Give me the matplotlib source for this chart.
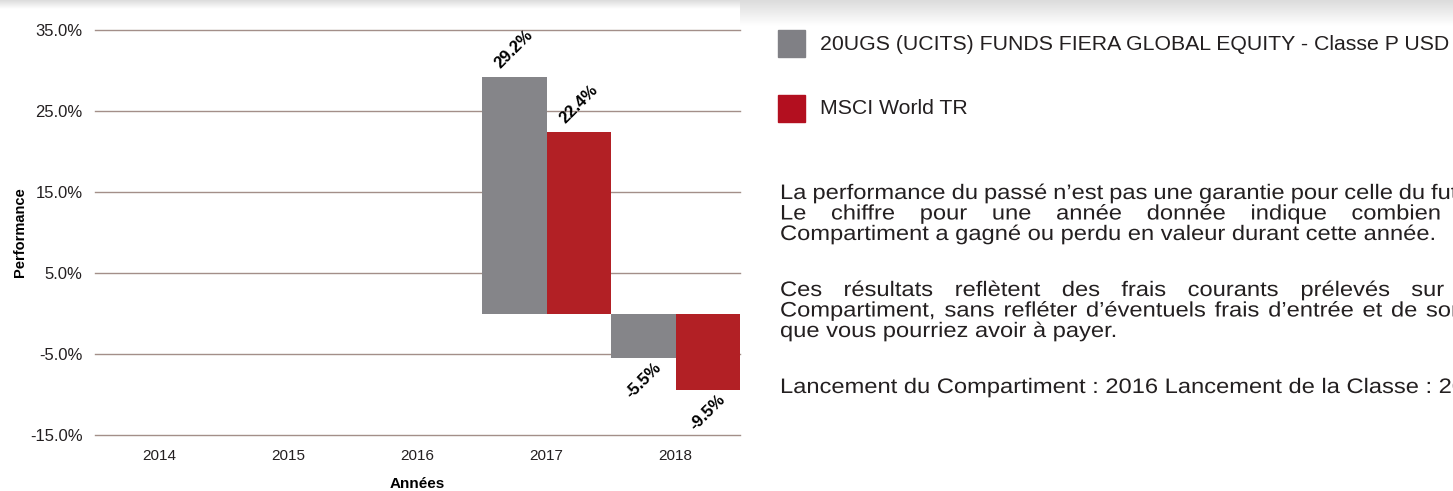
import matplotlib
matplotlib.use('Agg')
import matplotlib.pyplot as plt
import numpy as np
from matplotlib.patches import Rectangle
from matplotlib.patheffects import AbstractPathEffect
from matplotlib.transforms import Affine2D

plt.rcParams['font.family'] = ['Liberation Sans', 'DejaVu Sans']

# data
years = ['2014', '2015', '2016', '2017', '2018']
fund = [np.nan, np.nan, np.nan, 29.2, -5.5]
bench = [np.nan, np.nan, np.nan, 22.4, -9.5]
yticks = [-15, -5, 5, 15, 25, 35]

fund_name = '20UGS (UCITS) FUNDS FIERA GLOBAL EQUITY - Classe P USD'
bench_name = 'MSCI World TR'

paragraphs = [
    ['La performance du passé n’est pas une garantie pour celle du futur.',
     'Le chiffre pour une année donnée indique combien le',
     'Compartiment a gagné ou perdu en valeur durant cette année.'],
    ['Ces résultats reflètent des frais courants prélevés sur le',
     'Compartiment, sans refléter d’éventuels frais d’entrée et de sortie',
     'que vous pourriez avoir à payer.'],
    ['Lancement du Compartiment : 2016 Lancement de la Classe : 2016'],
]

grey = '#858589'
red = '#b22025'
grid_col = '#a38f89'
txt_col = '#231f20'

W, H = 1453, 491
fig = plt.figure(figsize=(W / 100, H / 100), dpi=100)


def fx(px):
    return px / W


def fy(py):
    return 1 - py / H


class HStretch(AbstractPathEffect):
    # widen glyphs horizontally around x0 (display pixels)
    def __init__(self, sx, x0):
        super().__init__()
        self.sx = sx
        self.x0 = x0

    def draw_path(self, renderer, gc, tpath, affine, rgbFace=None):
        st = Affine2D().translate(-self.x0, 0).scale(self.sx, 1).translate(self.x0, 0)
        renderer.draw_path(gc, tpath, affine + st, rgbFace)


# background: grey shading along the top
bg = fig.add_axes([0, 0, 1, 1], zorder=-5)
bg.set_xlim(0, W)
bg.set_ylim(H, 0)
bg.axis('off')
grad = np.linspace(0.86, 1.0, 50).reshape(-1, 1)
bg.imshow(np.repeat(grad, 2, axis=1), cmap='gray', vmin=0, vmax=1,
          extent=(0, W, 9, 0), aspect='auto')
bg.imshow(np.repeat(grad, 2, axis=1), cmap='gray', vmin=0, vmax=1,
          extent=(740, W, 26, 0), aspect='auto')

# chart
ax = fig.add_axes([fx(95), fy(435), fx(740) - fx(95), fy(30) - fy(435)])
x = np.arange(len(years))
ax.bar(x - 0.25, fund, width=0.5, color=grey, zorder=3)
ax.bar(x + 0.25, bench, width=0.5, color=red, zorder=3)

for xs, vals in [(x - 0.25, fund), (x + 0.25, bench)]:
    for xi, v in zip(xs, vals):
        if np.isnan(v):
            continue
        off = 20 if v > 0 else -16
        ax.annotate('{:.1f}%'.format(v), (xi, v), xytext=(0, off),
                    textcoords='offset points', ha='center', va='center',
                    rotation=45, fontsize=12, fontweight='bold', color='black')

ax.set_xlim(-0.5, len(years) - 0.5)
ax.set_ylim(-15, 35)
ax.set_xticks(x)
ax.set_xticklabels(years)
ax.set_yticks(yticks)
ax.set_yticklabels(['{:.1f}%'.format(t) for t in yticks])
ax.tick_params(length=0, colors=txt_col)
ax.tick_params(axis='y', pad=9, labelsize=12)
ax.tick_params(axis='x', pad=10, labelsize=11)
ax.yaxis.grid(True, color=grid_col, lw=1)
for gl in ax.yaxis.get_gridlines():
    gl.set_clip_on(False)
ax.set_axisbelow(True)
for s in ax.spines.values():
    s.set_visible(False)
ax.set_xlabel('Années', fontsize=11, fontweight='bold', labelpad=10.5)
ax.set_ylabel('Performance', fontsize=10.5, fontweight='bold', labelpad=2)

# legend on the right
for (name, col, yc) in [(fund_name, '#808085', 44), (bench_name, '#b30f1f', 109)]:
    fig.patches.append(Rectangle((fx(778), fy(yc + 13)), fx(27), 27 / H,
                                 transform=fig.transFigure, color=col))
    fig.text(fx(820), fy(yc), name, fontsize=15.3, color=txt_col,
             ha='left', va='center')

# justified paragraph text, glyphs a bit wider than Arial as in the reference
renderer = fig.canvas.get_renderer()
fs = 15.1
sx = 1.13
x0, x1 = 780, 1484
line_step = 20.5
base = [199, 296, 393]


def put_word(s, px, y):
    t = fig.text(fx(px), fy(y), s, fontsize=fs, color=txt_col, va='baseline')
    t.set_path_effects([HStretch(sx, px)])
    return t


def draw_line(line, y, justify):
    if not justify:
        put_word(line, x0, y)
        return
    words = line.split(' ')
    widths = []
    for w in words:
        t = fig.text(0, 0, w, fontsize=fs)
        widths.append(t.get_window_extent(renderer).width * sx)
        t.remove()
    gap = (x1 - x0 - sum(widths)) / (len(words) - 1)
    pos = x0
    for w, wd in zip(words, widths):
        put_word(w, pos, y)
        pos += wd + gap


for para, yb in zip(paragraphs, base):
    for i, line in enumerate(para):
        last = i == len(para) - 1
        draw_line(line, yb + i * line_step, not last)

fig.savefig('out.png', dpi=100)
